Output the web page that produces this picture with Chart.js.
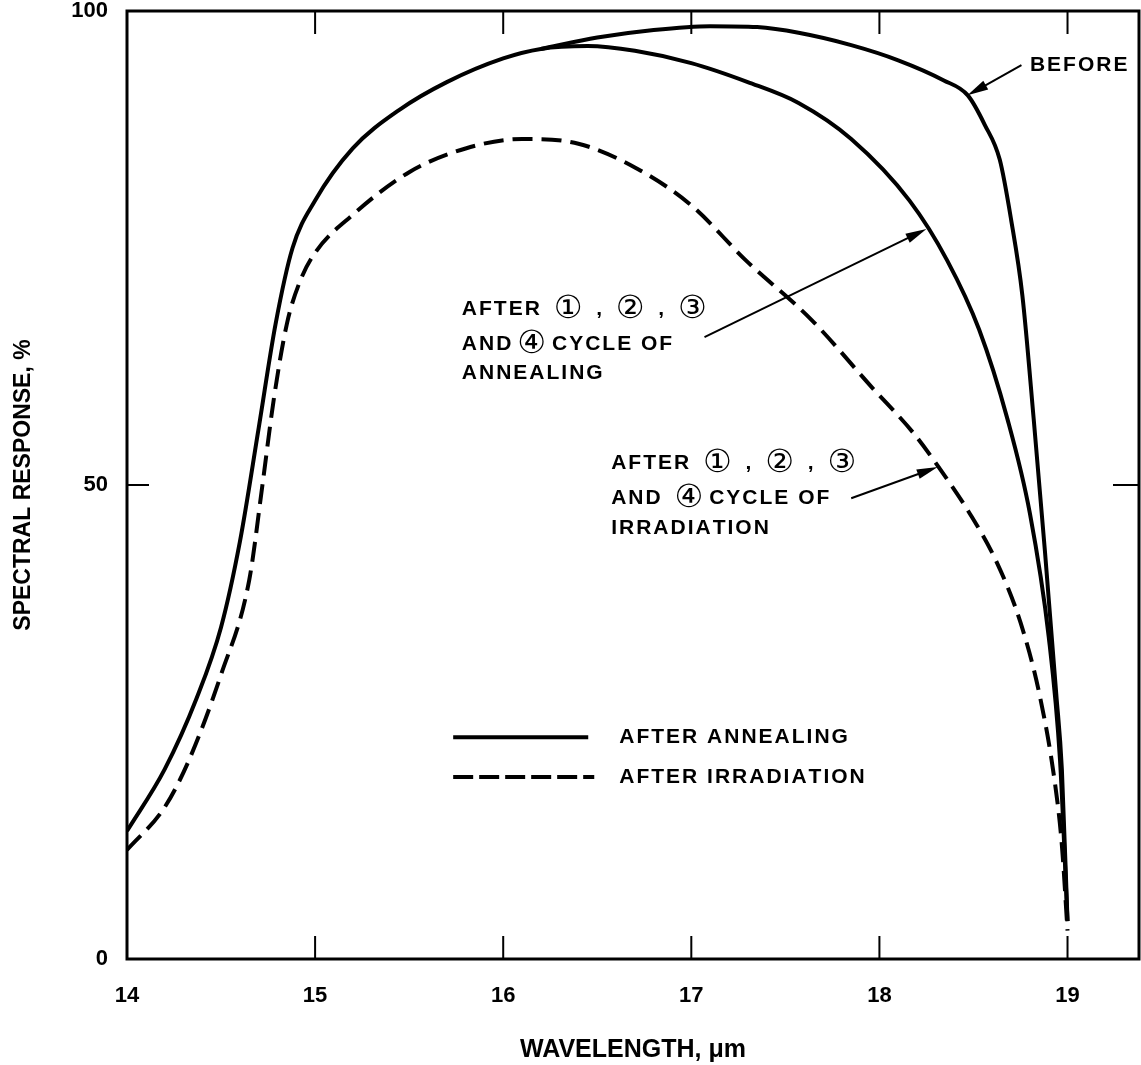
<!DOCTYPE html>
<html>
<head>
<meta charset="utf-8">
<script src="https://cdn.jsdelivr.net/npm/chart.js@4.4.0/dist/chart.umd.min.js"></script>
<style>
  html, body { margin: 0; padding: 0; background: #fff; }
  #wrap { width: 1141px; height: 1065px; }
</style>
</head>
<body>
<div id="wrap"><canvas id="spectral"></canvas></div>
<script>
const xTicks = [14, 15, 16, 17, 18, 19];
const yTicks = [0, 50, 100];

// after annealing (solid)
const annealWl = [14.0, 14.2, 14.37, 14.5, 14.6, 14.7, 14.79, 14.88, 15.0, 15.2, 15.45, 15.7, 16.0, 16.2, 16.45, 16.7, 17.0, 17.3, 17.57, 17.85, 18.16, 18.36, 18.53, 18.68, 18.8, 18.9, 18.96, 19.0];
const annealResp = [13.5, 20, 27.5, 35, 44, 56, 67, 75, 80, 85.5, 89.6, 92.5, 95, 96, 96.3, 95.8, 94.5, 92.5, 90.3, 86.5, 80, 73.7, 66.4, 57, 47, 34, 21, 4];

// before (solid, splits from the annealing curve)
const beforeWl = [16.2, 16.5, 16.8, 17.1, 17.35, 17.57, 17.85, 18.1, 18.34, 18.47, 18.56, 18.64, 18.7, 18.76, 18.82, 18.88, 18.94, 18.97, 19.0];
const beforeResp = [96, 97.2, 98.0, 98.4, 98.3, 97.7, 96.4, 94.8, 92.7, 91.1, 88, 84.3, 78, 70, 57, 43, 28, 20, 4];

// after irradiation (dashed)
const irrWl = [14.0, 14.2, 14.33, 14.5, 14.65, 14.72, 14.78, 14.85, 14.92, 15.0, 15.2, 15.5, 15.8, 16.1, 16.4, 16.7, 17.0, 17.29, 17.64, 17.96, 18.18, 18.3, 18.48, 18.62, 18.75, 18.85, 18.93, 18.97, 19.0];
const irrResp = [11.5, 16, 21, 30, 40, 50, 59, 67, 71.5, 74.5, 78.5, 83, 85.5, 86.5, 86, 83.5, 79.5, 73.7, 67.4, 60.3, 55.5, 52.3, 47, 42, 35.5, 28, 19, 12, 3];

// callout texts, anchored in data units (left edge, vertical centre per line)
const notes = [
  { x: 15.78, ys: [68.5, 64.8, 61.8], lines: ['AFTER \u2460 , \u2461 , \u2462', 'AND\u2463CYCLE OF', 'ANNEALING'] },
  { x: 16.574, ys: [52.3, 48.6, 45.4], lines: ['AFTER \u2460 , \u2461 , \u2462', 'AND \u2463CYCLE OF', 'IRRADIATION'] },
  { x: 18.80, ys: [94.3], lines: ['BEFORE'] }
];
const arrows = [
  { from: [17.07, 65.6], to: [18.25, 77.0] },
  { from: [17.85, 48.6], to: [18.31, 51.9] },
  { from: [18.755, 94.3], to: [18.468, 91.1] }
];
const legendItems = [
  { label: 'AFTER ANNEALING', y: 23.4, x0: 15.734, x1: 16.452, dash: [] },
  { label: 'AFTER IRRADIATION', y: 19.2, x0: 15.734, x1: 16.484, dash: [20, 6] }
];

const FONT = "'Liberation Sans', Arial, sans-serif";
const TEXT_FONT = 'bold 21px ' + FONT;
const CIRCLE_FONT = 'normal 32px "DejaVu Sans", ' + FONT;
const toPoints = (xs, ys) => xs.map((x, i) => ({ x: x, y: ys[i] }));

// draws a line char by char so the circled numbers can be larger than the letters
function drawSpaced(ctx, text, x, y) {
  let cx = x;
  for (const ch of text) {
    const code = ch.codePointAt(0);
    const circled = code >= 0x2460 && code <= 0x2473;
    ctx.font = circled ? CIRCLE_FONT : TEXT_FONT;
    const pad = circled ? 4 : 0;
    ctx.fillText(ch, cx + pad, y);
    cx += ctx.measureText(ch).width + 2 + pad * 2;
  }
}

const overlay = {
  id: 'overlay',
  afterDatasetsDraw(chart) {
    const { ctx, chartArea: a, scales: { x, y } } = chart;
    const px = v => x.getPixelForValue(v);
    const py = v => y.getPixelForValue(v);
    ctx.save();
    ctx.strokeStyle = '#000';
    ctx.fillStyle = '#000';

    // frame
    ctx.lineWidth = 3;
    ctx.strokeRect(a.left, a.top, a.right - a.left, a.bottom - a.top);

    // inward tick marks
    ctx.lineWidth = 2;
    ctx.beginPath();
    xTicks.slice(1).forEach(v => {
      ctx.moveTo(px(v), a.bottom); ctx.lineTo(px(v), a.bottom - 23);
      ctx.moveTo(px(v), a.top); ctx.lineTo(px(v), a.top + 23);
    });
    yTicks.slice(1, -1).forEach(v => {
      ctx.moveTo(a.left, py(v)); ctx.lineTo(a.left + 22, py(v));
      ctx.moveTo(a.right, py(v)); ctx.lineTo(a.right - 26, py(v));
    });
    ctx.stroke();

    // arrows
    arrows.forEach(ar => {
      const x0 = px(ar.from[0]), y0 = py(ar.from[1]);
      const x1 = px(ar.to[0]), y1 = py(ar.to[1]);
      const c = Math.cos(Math.atan2(y1 - y0, x1 - x0));
      const s = Math.sin(Math.atan2(y1 - y0, x1 - x0));
      ctx.lineWidth = 2;
      ctx.beginPath();
      ctx.moveTo(x0, y0);
      ctx.lineTo(x1 - 14 * c, y1 - 14 * s);
      ctx.stroke();
      ctx.beginPath();
      ctx.moveTo(x1, y1);
      ctx.lineTo(x1 - 21 * c + 5 * s, y1 - 21 * s - 5 * c);
      ctx.lineTo(x1 - 21 * c - 5 * s, y1 - 21 * s + 5 * c);
      ctx.closePath();
      ctx.fill();
    });

    // callout text
    ctx.textBaseline = 'middle';
    ctx.textAlign = 'left';
    notes.forEach(n => {
      n.lines.forEach((t, i) => drawSpaced(ctx, t, px(n.x), py(n.ys[i])));
    });

    // legend
    legendItems.forEach(it => {
      ctx.lineWidth = 4;
      ctx.setLineDash(it.dash);
      ctx.beginPath();
      ctx.moveTo(px(it.x0), py(it.y));
      ctx.lineTo(px(it.x1), py(it.y));
      ctx.stroke();
      ctx.setLineDash([]);
      drawSpaced(ctx, it.label, px(16.617), py(it.y));
    });
    ctx.restore();
  }
};

new Chart(document.getElementById('spectral'), {
  type: 'line',
  data: {
    datasets: [
      { label: 'After annealing', data: toPoints(annealWl, annealResp), borderDash: [] },
      { label: 'Before', data: toPoints(beforeWl, beforeResp), borderDash: [] },
      { label: 'After irradiation', data: toPoints(irrWl, irrResp), borderDash: [20, 9] }
    ]
  },
  options: {
    responsive: true,
    maintainAspectRatio: false,
    animation: false,
    layout: { padding: { top: 11, right: 2, left: 0, bottom: 0 } },
    elements: {
      line: { borderColor: '#000', borderWidth: 4, cubicInterpolationMode: 'monotone', fill: false },
      point: { radius: 0 }
    },
    plugins: { legend: { display: false }, tooltip: { enabled: false } },
    scales: {
      x: {
        type: 'linear',
        min: 14,
        max: 19.38,
        afterBuildTicks: s => { s.ticks = xTicks.map(v => ({ value: v })); },
        afterFit: s => { s.height = 106; },
        grid: { display: false, drawTicks: false },
        border: { display: false },
        ticks: { color: '#000', padding: 24, maxRotation: 0, font: { family: FONT, size: 22, weight: 'bold' } },
        title: {
          display: true, text: 'WAVELENGTH, \u03bcm', color: '#000',
          font: { family: FONT, size: 25, weight: 'bold' }, padding: { top: 0, bottom: 0 }
        }
      },
      y: {
        min: 0,
        max: 100,
        afterBuildTicks: s => { s.ticks = yTicks.map(v => ({ value: v })); },
        afterFit: s => { s.width = 127; s.paddingTop = 0; s.paddingBottom = 0; },
        grid: { display: false, drawTicks: false },
        border: { display: false },
        ticks: { color: '#000', padding: 19, font: { family: FONT, size: 22, weight: 'bold', lineHeight: 1 } },
        title: {
          display: true, text: 'SPECTRAL RESPONSE, %', color: '#000',
          font: { family: FONT, size: 23, weight: 'bold' }, padding: { top: 10, bottom: 0 }
        }
      }
    }
  },
  plugins: [overlay]
});
</script>
</body>
</html>
